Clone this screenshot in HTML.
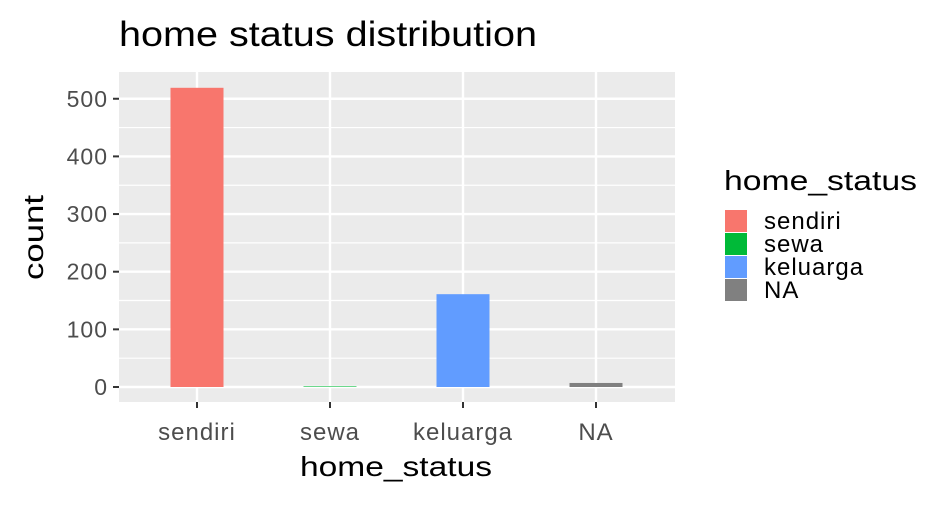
<!DOCTYPE html>
<html><head><style>
body{margin:0;background:#fff;font-family:"Liberation Sans",sans-serif;}
</style></head><body>
<svg width="951" height="501" xmlns="http://www.w3.org/2000/svg" font-family="Liberation Sans, sans-serif">
<text x="119" y="46" font-size="35" textLength="418" lengthAdjust="spacingAndGlyphs" fill="#000">home status distribution</text>
<rect x="119" y="72" width="556" height="330" fill="#ebebeb"/>
<g id="grid"></g><g id="bars"></g><g id="axes"></g>
<text x="300" y="476" font-size="28" textLength="192" lengthAdjust="spacingAndGlyphs">home_status</text>
<text transform="translate(43,280) rotate(-90)" font-size="28" textLength="85" lengthAdjust="spacingAndGlyphs">count</text>
<text x="724" y="190" font-size="28" textLength="193" lengthAdjust="spacingAndGlyphs">home_status</text>
<g id="legend"></g>
</svg>
<script>
const categories=["sendiri","sewa","keluarga","NA"];
const counts=[519,1,161,7];
const colors=["#f8766d","#00ba38","#619cff","#808080"];
const yTicks=[0,100,200,300,400,500];
const NS="http://www.w3.org/2000/svg";
const y0=387,pp=0.5765;
const y=v=>y0-v*pp;
const x=i=>197+i*133;
function mk(tag,at,p){const e=document.createElementNS(NS,tag);for(const k in at)e.setAttribute(k,at[k]);p.appendChild(e);return e;}
const g=document.getElementById('grid'),b=document.getElementById('bars'),a=document.getElementById('axes'),l=document.getElementById('legend');
yTicks.forEach((t,i)=>{
 if(i<yTicks.length-1){const m=mk('line',{x1:119,x2:675,y1:y(t+50),y2:y(t+50),stroke:'#fff','stroke-width':1.2},g);}
 const ln=mk('line',{x1:119,x2:675,y1:y(t),y2:y(t),stroke:'#fff','stroke-width':2.4},g);
 
 const tk=mk('line',{x1:113,x2:119,y1:y(t),y2:y(t),stroke:'#333','stroke-width':2},a);
 
 const tx=mk('text',{x:108,y:y(t)+8,'font-size':23,fill:'#4d4d4d','text-anchor':'end','letter-spacing':1},a);tx.textContent=t;
 
});
categories.forEach((c,i)=>{
 const ln=mk('line',{x1:x(i),x2:x(i),y1:72,y2:402,stroke:'#fff','stroke-width':2.4},g);
 
 const r=mk('rect',{x:x(i)-26.5,y:y(counts[i]),width:53,height:counts[i]*pp,fill:colors[i]},b);
 
 const tk=mk('line',{x1:x(i),x2:x(i),y1:402,y2:408,stroke:'#333','stroke-width':2},a);
 
 const tx=mk('text',{x:x(i),y:440,'font-size':24,fill:'#4d4d4d','text-anchor':'middle','letter-spacing':1},a);tx.textContent=c;
 
 const lr=mk('rect',{x:725,y:210+i*23,width:22,height:22,fill:colors[i]},l);
 
 const lt=mk('text',{x:764,y:229+i*23,'font-size':24,'letter-spacing':1},l);lt.textContent=c;
 
});
</script>
</body></html>
